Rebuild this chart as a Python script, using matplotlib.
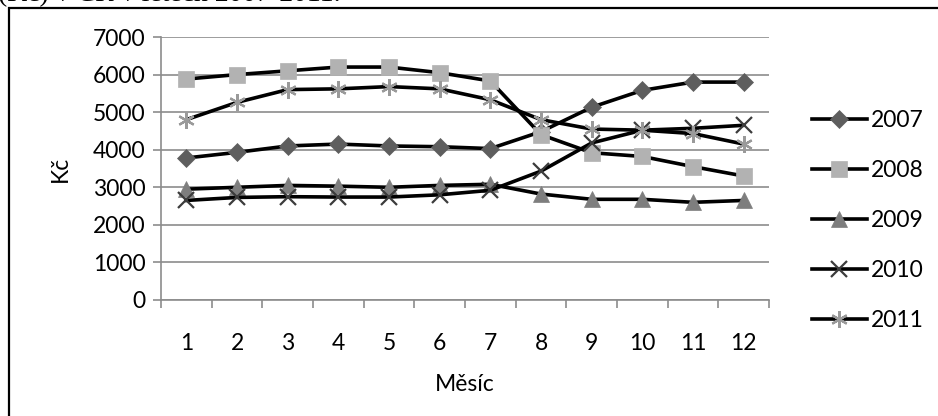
import numpy as np
import matplotlib
matplotlib.use('Agg')
import matplotlib.pyplot as plt
from matplotlib.patches import Rectangle

plt.rcParams['font.family'] = ['Lato', 'DejaVu Sans']

months = list(range(1, 13))
month_labels = [str(m) for m in months]
years = ['2007', '2008', '2009', '2010', '2011']

# průměrné měsíční ceny (Kč)
y2007 = [3780, 3930, 4100, 4150, 4100, 4080, 4030, 4480, 5130, 5580, 5800, 5800]
y2008 = [5880, 6000, 6100, 6200, 6200, 6050, 5830, 4400, 3920, 3820, 3550, 3300]
y2009 = [2950, 3000, 3050, 3030, 3000, 3050, 3080, 2820, 2680, 2680, 2600, 2650]
y2010 = [2650, 2730, 2750, 2740, 2740, 2800, 2920, 3430, 4180, 4520, 4570, 4650]
y2011 = [4800, 5260, 5600, 5620, 5680, 5620, 5330, 4800, 4550, 4520, 4430, 4150]

yticks = [0, 1000, 2000, 3000, 4000, 5000, 6000, 7000]

series = [y2007, y2008, y2009, y2010, y2011]
markers = ['D', 's', '^', 'x', (6, 2, 0)]
msizes = [9, 11, 11, 11, 12]
mcolors = ['#5e5e5e', '#b2b2b2', '#7e7e7e', '#3c3c3c', '#9a9a9a']

fig = plt.figure(figsize=(9.38, 4.16), dpi=100)
ax = fig.add_axes([161 / 938, 1 - 300 / 416, 608 / 938, 263 / 416])

grid_c = '#8c8c8c'
for vals, lab, mk, ms, mc in zip(series, years, markers, msizes, mcolors):
    ax.plot(months, vals, color='black', lw=2.6, marker=mk, markersize=ms,
            markerfacecolor=mc, markeredgecolor=mc,
            markeredgewidth=1.6 if mk in ('x', (6, 2, 0)) else 0.5,
            label=lab, zorder=3)

ax.set_xlim(0.5, 12.5)
ax.set_ylim(0, 7000)
ax.set_yticks(yticks)
ax.set_yticklabels([str(v) for v in yticks])
ax.set_xticks(months)
ax.set_xticklabels(month_labels)
ax.set_xticks(np.arange(0.5, 13, 1), minor=True)
ax.tick_params(axis='x', which='major', length=0, pad=24, labelsize=16.5)
ax.tick_params(axis='x', which='minor', length=6, width=1.2, color=grid_c, direction='out')
ax.tick_params(axis='y', length=6, width=1.2, color=grid_c, labelsize=16.5, pad=5)
ax.grid(axis='y', color=grid_c, lw=1.2, zorder=0)
for s in ('top', 'right'):
    ax.spines[s].set_visible(False)
for s in ('left', 'bottom'):
    ax.spines[s].set_color(grid_c)
    ax.spines[s].set_linewidth(1.2)

ax.set_ylabel('Kč', fontsize=16.5, labelpad=16)
ax.set_xlabel('Měsíc', fontsize=16.5, labelpad=14)

leg = ax.legend(loc='upper left', bbox_to_anchor=(1.055, 0.757), frameon=False,
                fontsize=16.5, handlelength=2.4, handletextpad=0.2,
                labelspacing=1.26, borderaxespad=0)

# rámeček kolem grafu
fig.patches.append(Rectangle((8.5 / 938, -0.2), 1.2, 1.2 - 8 / 416,
                             transform=fig.transFigure, fill=False,
                             edgecolor='black', lw=1.6))

# oříznutý řádek textu nad grafem
fig.text(-0.002, 1 + 0.3 / 416, '(Kč) v ČR v letech 2007-2011.', family='Liberation Serif',
         fontsize=20, va='baseline', ha='left')

fig.savefig('out.png', dpi=100)
